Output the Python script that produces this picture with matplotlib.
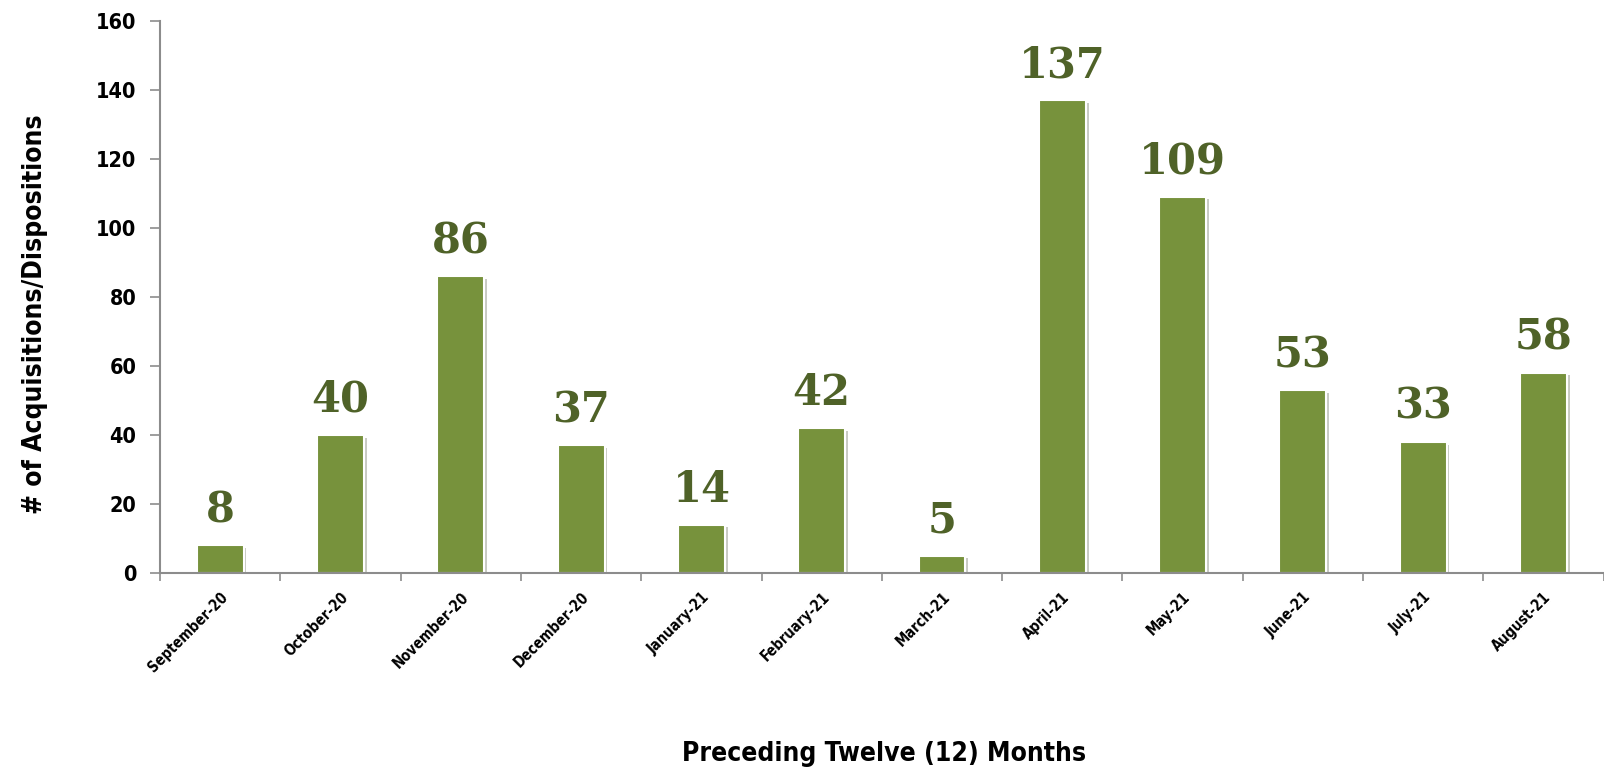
import matplotlib.pyplot as plt
import matplotlib.patheffects as pe

# Data
months = ['September-20', 'October-20', 'November-20', 'December-20', 'January-21',
          'February-21', 'March-21', 'April-21', 'May-21', 'June-21', 'July-21', 'August-21']
counts = [8, 40, 86, 37, 14, 42, 5, 137, 109, 53, 38, 58]
# labels as printed on the chart (July label differs from its bar)
count_labels = ['8', '40', '86', '37', '14', '42', '5', '137', '109', '53', '33', '58']

cond = ['DejaVu Sans']
bar_color = '#77923C'
label_color = '#4F6228'
axis_color = '#8C8C8C'

fig = plt.figure(figsize=(16.04, 7.72), dpi=100)
ax = fig.add_axes([0.0998, 0.2578, 0.9, 0.7156])

x = list(range(len(months)))
bars = ax.bar(x, counts, width=0.39, color=bar_color, edgecolor='white', linewidth=1.5)
for b in bars:
    b.set_path_effects([pe.SimplePatchShadow(offset=(2, -2), alpha=0.25), pe.Normal()])

for xi, v, lab in zip(x, counts, count_labels):
    ax.annotate(lab, (xi, v), xytext=(0, 10), textcoords='offset points',
                ha='center', va='bottom', fontsize=30, fontweight='bold',
                family='DejaVu Serif', color=label_color)

ax.set_xlim(-0.5, 11.5)
ax.set_ylim(0, 160)
ax.set_yticks(range(0, 161, 20))
ax.set_yticklabels([str(t) for t in range(0, 161, 20)], family=cond, stretch='condensed',
                   fontsize=15.5, fontweight='bold')

ax.set_xticks(x)
ax.set_xticklabels(months, rotation=45, ha='right', rotation_mode='anchor',
                   family=cond, stretch='condensed', fontsize=10.5, fontweight='bold')
ax.set_xticks([i - 0.5 for i in range(13)], minor=True)
ax.tick_params(axis='x', which='major', length=0, pad=12)
ax.tick_params(axis='x', which='minor', length=6, color=axis_color, width=1.2)
ax.tick_params(axis='y', length=7, color=axis_color, width=1.2, pad=10)

for s in ['top', 'right']:
    ax.spines[s].set_visible(False)
for s in ['left', 'bottom']:
    ax.spines[s].set_color(axis_color)
    ax.spines[s].set_linewidth(1.5)

fig.text(0.022, 0.593, '# of Acquisitions/Dispositions', rotation=90, stretch='condensed',
         ha='center', va='center', family=cond, fontsize=19, fontweight='bold')
fig.text(0.551, 0.023, 'Preceding Twelve (12) Months', ha='center', va='center',
         stretch='condensed', family=cond, fontsize=19, fontweight='bold')

fig.savefig('out.png', dpi=100)
